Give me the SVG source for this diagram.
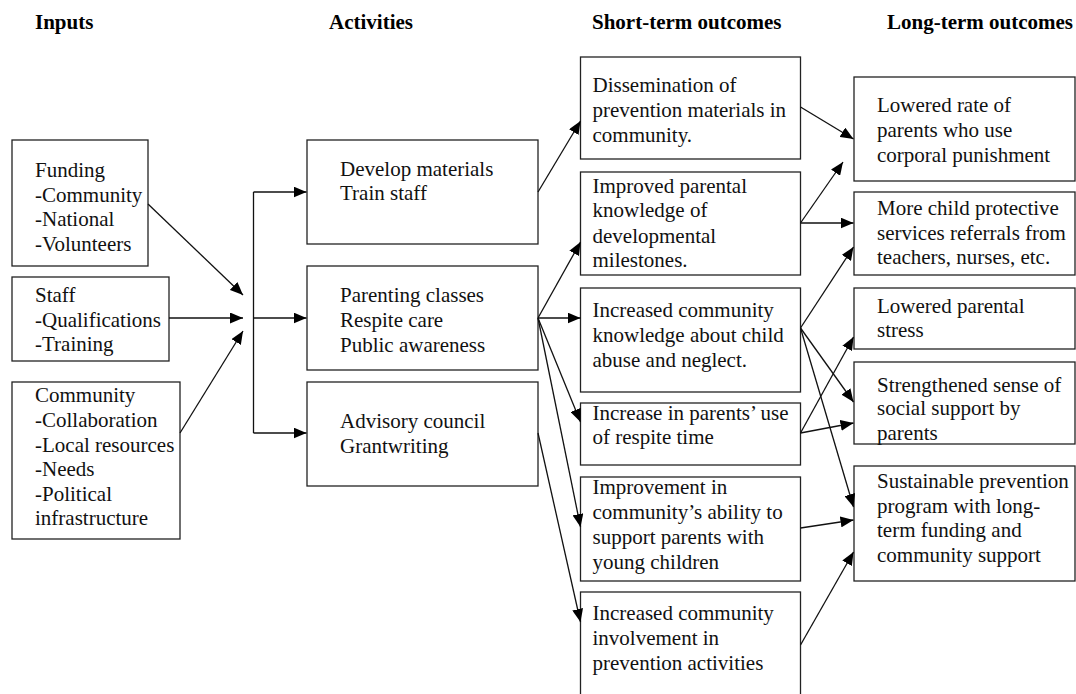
<svg xmlns="http://www.w3.org/2000/svg" width="1076" height="694" viewBox="0 0 1076 694">
  <style>
    text { font-family: 'Liberation Serif', Tinos, 'Times New Roman', Times, 'DejaVu Serif', serif; }
    .box { fill: #ffffff; stroke: #222222; stroke-width: 1.3; }
    .t { font-size: 21px; fill: #111111; }
    .h { font-size: 21px; font-weight: bold; fill: #000000; }
    .c { stroke: #111111; stroke-width: 1.3; fill: none; }
    .c line { marker-end: url(#ah); }
  </style>
  <defs>
    <marker id="ah" markerWidth="13" markerHeight="11" refX="13" refY="5.5" orient="auto" markerUnits="userSpaceOnUse">
      <path d="M0,0 L13,5.5 L0,11 z" fill="#000000" stroke="none"/>
    </marker>
  </defs>
  <rect x="0" y="0" width="1076" height="694" fill="#ffffff"/>

  <!-- column headings -->
  <g id="headers">
    <text class="h" x="35" y="29">Inputs</text>
    <text class="h" x="329" y="29">Activities</text>
    <text class="h" x="592" y="29">Short-term outcomes</text>
    <text class="h" x="887" y="29">Long-term outcomes</text>
  </g>

  <!-- inputs -->
  <g id="funding">
    <rect class="box" x="12" y="140" width="136" height="126"/>
    <text class="t" x="35" y="177">Funding</text>
    <text class="t" x="35" y="202">-Community</text>
    <text class="t" x="35" y="226">-National</text>
    <text class="t" x="35" y="251">-Volunteers</text>
  </g>
  <g id="staff">
    <rect class="box" x="12" y="277" width="157" height="84"/>
    <text class="t" x="35" y="302">Staff</text>
    <text class="t" x="35" y="327">-Qualifications</text>
    <text class="t" x="35" y="351">-Training</text>
  </g>
  <g id="community">
    <rect class="box" x="12" y="382" width="168" height="157"/>
    <text class="t" x="35" y="402">Community</text>
    <text class="t" x="35" y="427">-Collaboration</text>
    <text class="t" x="35" y="452">-Local resources</text>
    <text class="t" x="35" y="476">-Needs</text>
    <text class="t" x="35" y="501">-Political</text>
    <text class="t" x="35" y="525">infrastructure</text>
  </g>

  <!-- activities -->
  <g id="develop">
    <rect class="box" x="307" y="140" width="231" height="104"/>
    <text class="t" x="340" y="176">Develop materials</text>
    <text class="t" x="340" y="200">Train staff</text>
  </g>
  <g id="parenting">
    <rect class="box" x="307" y="266" width="231" height="104"/>
    <text class="t" x="340" y="302">Parenting classes</text>
    <text class="t" x="340" y="327">Respite care</text>
    <text class="t" x="340" y="352">Public awareness</text>
  </g>
  <g id="advisory">
    <rect class="box" x="307" y="382" width="231" height="104"/>
    <text class="t" x="340" y="428">Advisory council</text>
    <text class="t" x="340" y="453">Grantwriting</text>
  </g>

  <!-- short-term outcomes -->
  <g id="dissemination">
    <rect class="box" x="580.5" y="57" width="220" height="102"/>
    <text class="t" x="592.5" y="92">Dissemination of</text>
    <text class="t" x="592.5" y="117">prevention materials in</text>
    <text class="t" x="592.5" y="142">community.</text>
  </g>
  <g id="knowledge-parents">
    <rect class="box" x="580.5" y="172" width="220" height="103"/>
    <text class="t" x="592.5" y="193">Improved parental</text>
    <text class="t" x="592.5" y="217">knowledge of</text>
    <text class="t" x="592.5" y="243">developmental</text>
    <text class="t" x="592.5" y="267">milestones.</text>
  </g>
  <g id="knowledge-community">
    <rect class="box" x="580.5" y="288" width="220" height="104"/>
    <text class="t" x="592.5" y="317">Increased community</text>
    <text class="t" x="592.5" y="342">knowledge about child</text>
    <text class="t" x="592.5" y="367">abuse and neglect.</text>
  </g>
  <g id="respite">
    <rect class="box" x="580.5" y="403" width="220" height="62"/>
    <text class="t" x="592.5" y="420">Increase in parents’ use</text>
    <text class="t" x="592.5" y="444">of respite time</text>
  </g>
  <g id="ability">
    <rect class="box" x="580.5" y="477" width="220" height="104"/>
    <text class="t" x="592.5" y="494">Improvement in</text>
    <text class="t" x="592.5" y="519">community’s ability to</text>
    <text class="t" x="592.5" y="544">support parents with</text>
    <text class="t" x="592.5" y="569">young children</text>
  </g>
  <g id="involvement">
    <rect class="box" x="580.5" y="592" width="220" height="103"/>
    <text class="t" x="592.5" y="620">Increased community</text>
    <text class="t" x="592.5" y="645">involvement in</text>
    <text class="t" x="592.5" y="670">prevention activities</text>
  </g>

  <!-- long-term outcomes -->
  <g id="punishment">
    <rect class="box" x="854" y="77" width="221" height="104"/>
    <text class="t" x="877" y="112">Lowered rate of</text>
    <text class="t" x="877" y="137">parents who use</text>
    <text class="t" x="877" y="162">corporal punishment</text>
  </g>
  <g id="referrals">
    <rect class="box" x="854" y="192" width="221" height="83"/>
    <text class="t" x="877" y="215">More child protective</text>
    <text class="t" x="877" y="240">services referrals from</text>
    <text class="t" x="877" y="264">teachers, nurses, etc.</text>
  </g>
  <g id="stress">
    <rect class="box" x="854" y="288" width="221" height="61"/>
    <text class="t" x="877" y="313">Lowered parental</text>
    <text class="t" x="877" y="337">stress</text>
  </g>
  <g id="social-support">
    <rect class="box" x="854" y="362" width="221" height="82"/>
    <text class="t" x="877" y="392">Strengthened sense of</text>
    <text class="t" x="877" y="415">social support by</text>
    <text class="t" x="877" y="440">parents</text>
  </g>
  <g id="sustainable">
    <rect class="box" x="854" y="466" width="221" height="115"/>
    <text class="t" x="877" y="488">Sustainable prevention</text>
    <text class="t" x="877" y="513">program with long-</text>
    <text class="t" x="877" y="537">term funding and</text>
    <text class="t" x="877" y="562">community support</text>
  </g>

  <!-- connectors -->
  <g id="connectors" class="c">
    <line x1="148" y1="204" x2="243" y2="295"/>
    <line x1="169" y1="318" x2="243" y2="318"/>
    <line x1="180" y1="433" x2="243" y2="331"/>
    <path d="M253.5,192 V433"/>
    <line x1="253.5" y1="192" x2="306.5" y2="192"/>
    <line x1="253.5" y1="318" x2="306.5" y2="318"/>
    <line x1="253.5" y1="433" x2="306.5" y2="433"/>

    <line x1="538" y1="192" x2="580.5" y2="121"/>
    <line x1="538" y1="318" x2="580.5" y2="242"/>
    <line x1="538" y1="318" x2="580.5" y2="318"/>
    <line x1="538" y1="318" x2="580.5" y2="422"/>
    <line x1="538" y1="318" x2="580.5" y2="527"/>
    <line x1="538" y1="433" x2="580.5" y2="622"/>

    <line x1="800.5" y1="107" x2="853.5" y2="139"/>
    <line x1="800.5" y1="223" x2="843" y2="162"/>
    <line x1="800.5" y1="223" x2="853.5" y2="223"/>
    <line x1="800.5" y1="328" x2="853.5" y2="247"/>
    <line x1="800.5" y1="328" x2="853.5" y2="402"/>
    <line x1="800.5" y1="328" x2="853.5" y2="507"/>
    <line x1="800.5" y1="433" x2="853.5" y2="337"/>
    <line x1="800.5" y1="433" x2="853.5" y2="423"/>
    <line x1="800.5" y1="528" x2="853.5" y2="520"/>
    <line x1="800.5" y1="645" x2="853.5" y2="552"/>
  </g>
</svg>
